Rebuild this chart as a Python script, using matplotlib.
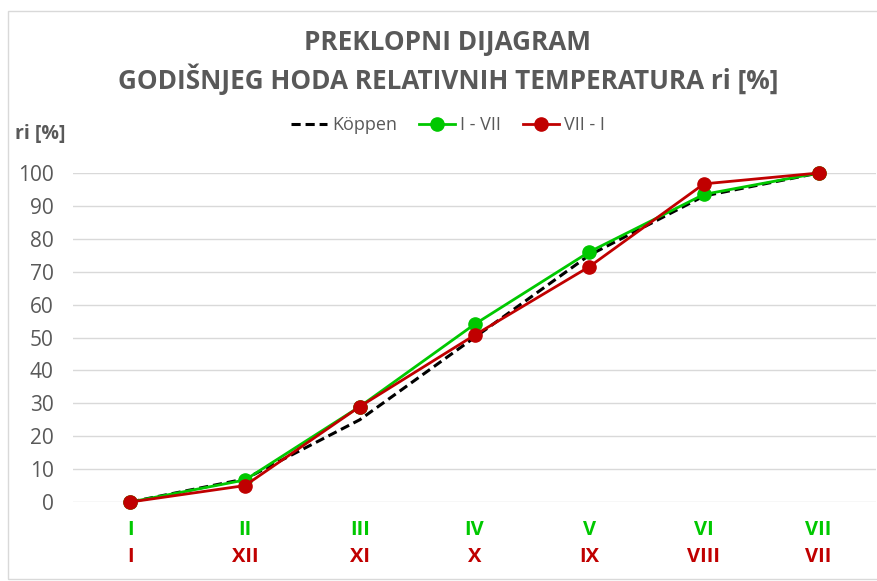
import matplotlib
matplotlib.use("Agg")
import matplotlib.pyplot as plt
from matplotlib.patches import Rectangle
import matplotlib.transforms as mtransforms

months_top = ["I", "II", "III", "IV", "V", "VI", "VII"]
months_bottom = ["I", "XII", "XI", "X", "IX", "VIII", "VII"]
koppen = [0, 7, 25, 50, 75, 93, 100]
i_vii = [0, 6.7, 29, 54, 76, 93.5, 100]
vii_i = [0, 5, 29, 50.7, 71.5, 96.7, 100]
yticks = [0, 10, 20, 30, 40, 50, 60, 70, 80, 90, 100]

GREEN = "#00C800"
RED = "#C00000"
GRAY = "#595959"
FONT = ["Open Sans", "DejaVu Sans"]
plt.rcParams["font.family"] = FONT

W, H = 877, 581
fig = plt.figure(figsize=(W / 100, H / 100), dpi=100)
fig.patch.set_facecolor("white")

# outer chart border
fig.patches.append(Rectangle((8 / W, 2 / H), 1.2, (H - 13) / H, transform=fig.transFigure,
                             fill=False, edgecolor="#D9D9D9", linewidth=1.0))

left, right, top, bottom = 73, 876, 173, 502
ax = fig.add_axes([left / W, 1 - bottom / H, (right - left) / W, (bottom - top) / H])

x = list(range(len(months_top)))
ax.plot(x, koppen, color="black", linestyle=(0, (3, 1.6)), linewidth=2.2, label="Köppen", zorder=3)
ax.plot(x, i_vii, color=GREEN, linewidth=2, marker="o", markersize=9.5, label="I - VII",
        clip_on=False, zorder=4)
ax.plot(x, vii_i, color=RED, linewidth=2, marker="o", markersize=9.5, label="VII - I",
        clip_on=False, zorder=5)

ax.set_xlim(-0.5, len(x) - 0.5)
ax.set_ylim(0, 100)
ax.set_yticks(yticks)
ax.set_yticklabels([str(v) for v in yticks], fontsize=15, color=GRAY)
ax.tick_params(axis="y", length=0, pad=14)
ax.set_xticks(x)
ax.set_xticklabels([""] * len(x))
ax.tick_params(axis="x", length=0)
for s in ax.spines.values():
    s.set_visible(False)
ax.yaxis.grid(True, color="#D9D9D9", linewidth=1)
ax.set_axisbelow(True)

trans = mtransforms.blended_transform_factory(ax.transData, fig.transFigure)
for xi, (t, b) in enumerate(zip(months_top, months_bottom)):
    ax.text(xi, 1 - 530 / H, t, transform=trans, ha="center", va="center",
            fontsize=14.5, fontweight="bold", color=GREEN)
    ax.text(xi, 1 - 557 / H, b, transform=trans, ha="center", va="center",
            fontsize=14.5, fontweight="bold", color=RED)

fig.text(448 / W, 1 - 42 / H, "PREKLOPNI DIJAGRAM", ha="center", va="center",
         fontsize=18.8, fontweight="bold", color=GRAY)
fig.text(448 / W, 1 - 79 / H, "GODIŠNJEG HODA RELATIVNIH TEMPERATURA ri [%]", ha="center",
         va="center", fontsize=18.8, fontweight="bold", color=GRAY)
fig.text(15 / W, 1 - 134 / H, "ri [%]", ha="left", va="center", fontsize=14,
         fontweight="bold", color=GRAY)

leg = fig.legend(loc="center", bbox_to_anchor=(448 / W, 1 - 125 / H), ncol=3, frameon=False,
                 fontsize=13, handlelength=2.0, handletextpad=0.3, columnspacing=1.2)
for t in leg.get_texts():
    t.set_color(GRAY)

fig.savefig("out.png", dpi=100, facecolor="white")
